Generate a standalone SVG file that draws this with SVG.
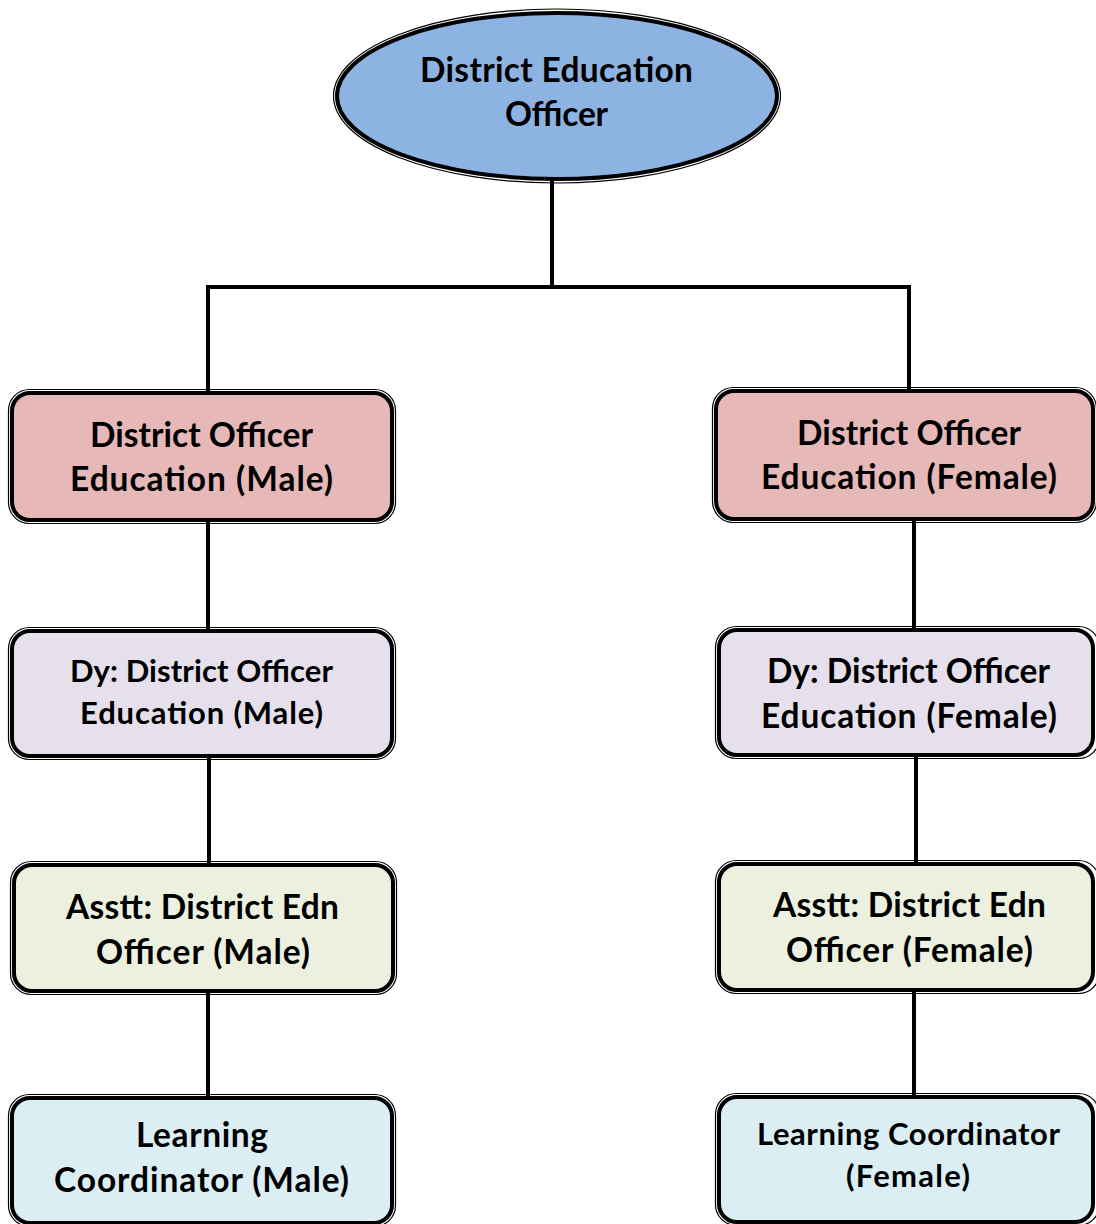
<svg xmlns="http://www.w3.org/2000/svg" width="1096" height="1224" viewBox="0 0 1096 1224">
<style>
.outer{fill:none;stroke:#000;stroke-width:1.2}
.inner{stroke:#000;stroke-width:4}
.t{font-family:Lato,"Open Sans","Liberation Sans",sans-serif;font-weight:bold;font-size:33.5px;fill:#000;text-anchor:middle}
.s{font-size:31px}
.c1{fill:#E6B8B7}.c2{fill:#E5E0EC}.c3{fill:#EBF1DE}.c4{fill:#DBEEF3}
.ln{stroke:#000;stroke-width:4;fill:none}
</style>
<rect width="1096" height="1224" fill="#fff"/>
<g id="connectors">
<line class="ln" x1="552" y1="178" x2="552" y2="289"/>
<line class="ln" x1="206" y1="287" x2="911" y2="287"/>
<line class="ln" x1="208" y1="285" x2="208" y2="393"/>
<line class="ln" x1="909" y1="285" x2="909" y2="391"/>
<line class="ln" x1="208" y1="520" x2="208" y2="631"/>
<line class="ln" x1="209" y1="756" x2="209" y2="865"/>
<line class="ln" x1="208" y1="991" x2="208" y2="1098"/>
<line class="ln" x1="914" y1="519" x2="914" y2="630"/>
<line class="ln" x1="916" y1="755" x2="916" y2="864"/>
<line class="ln" x1="914" y1="990" x2="914" y2="1097"/>
</g>
<g id="deo">
<ellipse class="outer" cx="557" cy="96" rx="223.5" ry="87"/>
<ellipse class="inner" cx="557" cy="96" rx="220" ry="83" fill="#8DB3E2"/>
<text class="t" x="556.5" y="82" textLength="273">District Education</text>
<text class="t" x="556.5" y="126" textLength="103">Officer</text>
</g>
<g id="doe-male">
<rect class="outer" x="8.5" y="389.5" width="387" height="134" rx="21"/>
<rect class="inner c1" x="12" y="393" width="380" height="127" rx="18"/>
<text class="t" x="201.5" y="447" textLength="223">District Officer</text>
<text class="t" x="201.5" y="491" textLength="263">Education (Male)</text>
</g>
<g id="doe-female">
<rect class="outer" x="712.5" y="387.5" width="384" height="135" rx="21"/>
<rect class="inner c1" x="716" y="391" width="377" height="128" rx="18"/>
<text class="t" x="909" y="445" textLength="224">District Officer</text>
<text class="t" x="909" y="489" textLength="296">Education (Female)</text>
</g>
<g id="ddoe-male">
<rect class="outer" x="8.5" y="627.5" width="387" height="132" rx="21"/>
<rect class="inner c2" x="12" y="631" width="380" height="125" rx="18"/>
<text class="t s" x="201.5" y="682" textLength="263">Dy: District Officer</text>
<text class="t s" x="201.5" y="724" textLength="243">Education (Male)</text>
</g>
<g id="ddoe-female">
<rect class="outer" x="715.5" y="626.5" width="384" height="132" rx="21"/>
<rect class="inner c2" x="719" y="630" width="374" height="125" rx="18"/>
<text class="t" x="908.5" y="683" textLength="283">Dy: District Officer</text>
<text class="t" x="909" y="728" textLength="296">Education (Female)</text>
</g>
<g id="adeo-male">
<rect class="outer" x="10.5" y="861.5" width="386" height="133" rx="21"/>
<rect class="inner c3" x="14" y="865" width="379" height="126" rx="18"/>
<text class="t" x="202.5" y="919" textLength="273">Asstt: District Edn</text>
<text class="t" x="203" y="964" textLength="214">Officer (Male)</text>
</g>
<g id="adeo-female">
<rect class="outer" x="715.5" y="860.5" width="384" height="133" rx="21"/>
<rect class="inner c3" x="719" y="864" width="374" height="126" rx="18"/>
<text class="t" x="909.5" y="917" textLength="273">Asstt: District Edn</text>
<text class="t" x="909.5" y="962" textLength="247">Officer (Female)</text>
</g>
<g id="lc-male">
<rect class="outer" x="8.5" y="1094.5" width="387" height="132" rx="21"/>
<rect class="inner c4" x="12" y="1098" width="380" height="125" rx="18"/>
<text class="t" x="202" y="1147" textLength="132">Learning</text>
<text class="t" x="201.5" y="1192" textLength="295">Coordinator (Male)</text>
</g>
<g id="lc-female">
<rect class="outer" x="715.5" y="1093.5" width="384" height="132" rx="21"/>
<rect class="inner c4" x="719" y="1097" width="374" height="125" rx="18"/>
<text class="t s" x="908.5" y="1145" textLength="303">Learning Coordinator</text>
<text class="t s" x="908" y="1187" textLength="124">(Female)</text>
</g>
</svg>
